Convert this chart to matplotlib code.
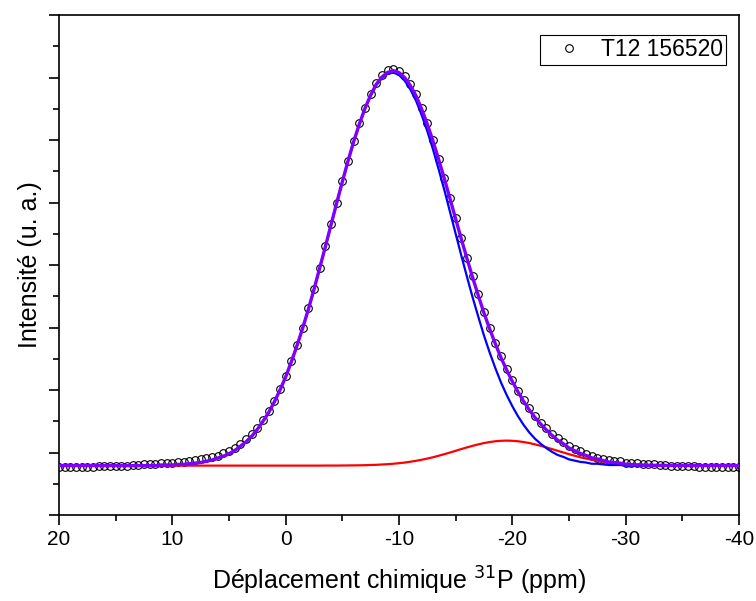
import numpy as np
import matplotlib
matplotlib.use("Agg")
import matplotlib.pyplot as plt
from matplotlib.ticker import MultipleLocator, NullFormatter

# Chemical shift axis: 20 ppm down to -40 ppm, every 0.5 ppm
shift_start, shift_stop, shift_step = 20.0, -40.0, -0.5

# Measured 31P spectrum (arbitrary intensity units)
measured = [
    0.77, 0.77, 0.77, 0.77, 0.77, 0.77, 0.77, 0.78, 0.78, 0.78,
    0.79, 0.79, 0.79, 0.80, 0.80, 0.81, 0.82, 0.82, 0.83, 0.83,
    0.84, 0.85, 0.85, 0.86, 0.88, 0.89, 0.91, 0.93, 0.95, 0.99,
    1.03, 1.08, 1.14, 1.21, 1.29, 1.40, 1.52, 1.66, 1.83, 2.02,
    2.23, 2.46, 2.72, 3.00, 3.31, 3.62, 3.96, 4.30, 4.65, 5.00,
    5.34, 5.67, 5.98, 6.27, 6.52, 6.74, 6.91, 7.04, 7.12, 7.14,
    7.11, 7.03, 6.90, 6.73, 6.52, 6.27, 6.00, 5.70, 5.39, 5.08,
    4.75, 4.43, 4.12, 3.82, 3.53, 3.25, 2.99, 2.76, 2.54, 2.34,
    2.16, 1.99, 1.84, 1.71, 1.59, 1.48, 1.39, 1.30, 1.23, 1.17,
    1.11, 1.06, 1.02, 0.98, 0.95, 0.92, 0.90, 0.88, 0.87, 0.86,
    0.84, 0.84, 0.83, 0.82, 0.81, 0.81, 0.80, 0.80, 0.79, 0.79,
    0.78, 0.78, 0.78, 0.77, 0.77, 0.77, 0.77, 0.77, 0.77, 0.77,
    0.77,
]

# Fitted baseline level
baseline = 0.79

# Main fitted component (height above baseline)
comp_main = [0.0] * 18 + [
    0.01, 0.01, 0.01, 0.02, 0.02, 0.03, 0.04, 0.05, 0.07, 0.09,
    0.12, 0.15, 0.19, 0.24, 0.31, 0.38, 0.47, 0.58, 0.71, 0.85,
    1.02, 1.21, 1.42, 1.66, 1.92, 2.20, 2.50, 2.82, 3.16, 3.50,
    3.85, 4.20, 4.54, 4.87, 5.18, 5.46, 5.71, 5.92, 6.09, 6.20,
    6.27, 6.29, 6.25, 6.16, 6.02, 5.84, 5.61, 5.35, 5.06, 4.74,
    4.41, 4.06, 3.71, 3.36, 3.02, 2.69, 2.38, 2.08, 1.81, 1.56,
    1.33, 1.13, 0.95, 0.79, 0.65, 0.53, 0.43, 0.35, 0.28, 0.22,
    0.17, 0.14, 0.10, 0.08, 0.06, 0.05, 0.03, 0.03, 0.02, 0.01,
    0.01, 0.01,
] + [0.0] * 21

# Minor fitted component near -19.5 ppm (height above baseline)
comp_minor = [0.0] * 47 + [
    0.001, 0.001, 0.001, 0.002, 0.003, 0.004, 0.005, 0.007, 0.010, 0.013,
    0.018, 0.023, 0.030, 0.039, 0.049, 0.062, 0.077, 0.094, 0.113, 0.134,
    0.158, 0.183, 0.210, 0.237, 0.265, 0.292, 0.317, 0.340, 0.361, 0.377,
    0.390, 0.397, 0.400, 0.397, 0.390, 0.377, 0.361, 0.340, 0.317, 0.292,
    0.265, 0.237, 0.210, 0.183, 0.158, 0.134, 0.113, 0.094, 0.077, 0.062,
    0.049, 0.039, 0.030, 0.023, 0.018, 0.013, 0.010, 0.007, 0.005, 0.004,
    0.003, 0.002, 0.001, 0.001, 0.001,
] + [0.0] * 9

sample_label = "T12 156520"
x_ticks = [20, 10, 0, -10, -20, -30, -40]

shift = np.arange(shift_start, shift_stop + shift_step / 2, shift_step)
measured = np.asarray(measured)
main = baseline + np.asarray(comp_main)
minor = baseline + np.asarray(comp_minor)
total = baseline + np.asarray(comp_main) + np.asarray(comp_minor)

plt.rcParams["font.family"] = ["Liberation Sans", "DejaVu Sans"]
plt.rcParams["axes.unicode_minus"] = False

fig = plt.figure(figsize=(7.56, 6.01), dpi=100)
ax = fig.add_axes([59 / 756, 86 / 601, 680 / 756, 500 / 601])

ax.plot(shift, measured, "o", ms=5.5, mfc="none", mec="black", mew=0.8,
        zorder=2, label=sample_label)
ax.plot(shift, minor, color="#ff0000", lw=1.6, zorder=3)
ax.plot(shift, main, color="#0000ff", lw=1.6, zorder=4)
ax.plot(shift, total, color="#8000ff", lw=2.4, zorder=5)

ax.set_xlim(20, -40)
ax.set_ylim(0, 8)
ax.set_xticks(x_ticks)
ax.set_xticklabels([str(t) for t in x_ticks])
ax.xaxis.set_minor_locator(MultipleLocator(5))
ax.yaxis.set_major_locator(MultipleLocator(1))
ax.yaxis.set_minor_locator(MultipleLocator(0.5))
ax.yaxis.set_major_formatter(NullFormatter())
ax.tick_params(which="major", length=7, width=1.2, direction="out", labelsize=15)
ax.tick_params(which="minor", length=4, width=1.2, direction="out")
for s in ax.spines.values():
    s.set_linewidth(1.2)

ax.set_xlabel("Déplacement chimique $^{31}$P (ppm)", fontsize=18, labelpad=12)
ax.set_ylabel("Intensité (u. a.)", fontsize=18, labelpad=2)

leg = ax.legend(loc="upper right", bbox_to_anchor=(0.981, 0.96), borderaxespad=0,
                fancybox=False, edgecolor="black", fontsize=16.5,
                borderpad=0.15, handlelength=2.2, handletextpad=0.3,
                framealpha=1)
leg.get_frame().set_linewidth(0.8)

fig.savefig("out.png", dpi=100)
